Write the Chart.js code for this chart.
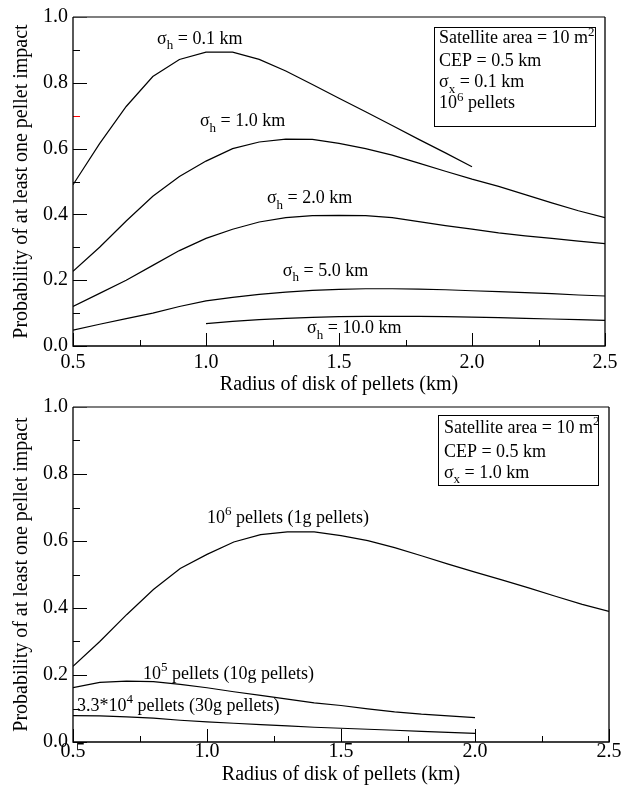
<!DOCTYPE html>
<html><head><meta charset="utf-8">
<script src="https://cdn.jsdelivr.net/npm/chart.js@4/dist/chart.umd.min.js"></script>
<style>
html,body{margin:0;padding:0;background:#fff;}
body{width:623px;height:787px;position:relative;overflow:hidden;}
#w1{position:absolute;left:0;top:0;width:623px;height:400px;}
#w2{position:absolute;left:0;top:390px;width:623px;height:397px;}
</style></head><body>
<div id="w1"><canvas id="c1"></canvas></div>
<div id="w2"><canvas id="c2"></canvas></div>
<script>
// ---- data ----
const radius = [0.5,0.6,0.7,0.8,0.9,1.0,1.1,1.2,1.3,1.4,1.5,1.6,1.7,1.8,1.9,2.0,2.1,2.2,2.3,2.4,2.5];
const radiusTo2 = [0.5,0.6,0.7,0.8,0.9,1.0,1.1,1.2,1.3,1.4,1.5,1.6,1.7,1.8,1.9,2.0];
const radiusFrom1 = [1.0,1.1,1.2,1.3,1.4,1.5,1.6,1.7,1.8,1.9,2.0,2.1,2.2,2.3,2.4,2.5];

// top panel (sigma_x = 0.1 km, 10^6 pellets)
const sigmaH01  = [0.490,0.615,0.728,0.819,0.871,0.893,0.893,0.871,0.836,0.795,0.753,0.712,0.670,0.628,0.587,0.545];
const sigmaH10  = [0.227,0.300,0.380,0.455,0.515,0.562,0.600,0.620,0.629,0.628,0.616,0.600,0.580,0.556,0.531,0.507,0.485,0.460,0.435,0.411,0.390];
const sigmaH20  = [0.120,0.160,0.200,0.245,0.290,0.327,0.355,0.377,0.390,0.396,0.397,0.396,0.390,0.378,0.366,0.355,0.344,0.335,0.327,0.319,0.311];
const sigmaH50  = [0.048,0.066,0.083,0.100,0.120,0.137,0.148,0.157,0.164,0.169,0.172,0.174,0.174,0.173,0.171,0.168,0.165,0.162,0.159,0.155,0.152];
const sigmaH100 = [0.068,0.075,0.080,0.084,0.087,0.089,0.090,0.090,0.090,0.089,0.088,0.086,0.084,0.082,0.080,0.078];

// bottom panel (sigma_x = 1.0 km)
const pellets1e6  = [0.226,0.300,0.380,0.455,0.518,0.560,0.597,0.619,0.627,0.627,0.616,0.601,0.580,0.556,0.531,0.507,0.484,0.460,0.435,0.411,0.390];
const pellets1e5  = [0.162,0.178,0.182,0.180,0.172,0.162,0.150,0.139,0.128,0.117,0.109,0.099,0.090,0.083,0.078,0.073];
const pellets33e3 = [0.079,0.078,0.075,0.071,0.065,0.060,0.056,0.052,0.048,0.044,0.041,0.038,0.035,0.032,0.029,0.026];

// tick values
const xMajorTicks = [0.5,1.0,1.5,2.0,2.5];
const xMinorTicks = [0.75,1.25,1.75,2.25];
const yMajorTicks = [0.0,0.2,0.4,0.6,0.8,1.0];
const yMinorTicks = [0.1,0.3,0.5,0.7,0.9];

const FONT = '"Liberation Serif","Times New Roman",serif';
const pts = (xs, ys) => ys.map((y, i) => ({x: xs[i], y}));
const line = (xs, ys) => ({data: pts(xs, ys), borderColor:'#000', borderWidth:1.2, pointRadius:0, tension:0, fill:false});

function drawRuns(ctx, runs, x, y, size) {
  let cx = x;
  ctx.fillStyle = '#000';
  ctx.textBaseline = 'alphabetic';
  ctx.textAlign = 'left';
  for (const r of runs) {
    const small = r.sub || r.sup;
    const s = small ? Math.round(size * 0.7) : size;
    ctx.font = s + 'px ' + FONT;
    const dy = r.sub ? size * 0.32 : (r.sup ? -size * 0.42 : 0);
    ctx.fillText(r.t, cx, y + dy);
    cx += ctx.measureText(r.t).width;
  }
}

const decor = {
  id: 'decor',
  afterDraw(chart, args, o) {
    const ctx = chart.ctx, xs = chart.scales.x, ys = chart.scales.y;
    const a = chart.chartArea;
    ctx.save();
    // ticks inside
    ctx.lineWidth = 1;
    ctx.strokeStyle = '#000';
    const X = v => Math.round(xs.getPixelForValue(v)) + 0.5;
    const Y = v => Math.round(ys.getPixelForValue(v)) + 0.5;
    xMajorTicks.forEach(v => { ctx.beginPath(); ctx.moveTo(X(v), a.bottom); ctx.lineTo(X(v), a.bottom - 13); ctx.stroke(); });
    xMinorTicks.forEach(v => { ctx.beginPath(); ctx.moveTo(X(v), a.bottom); ctx.lineTo(X(v), a.bottom - 6); ctx.stroke(); });
    yMajorTicks.forEach(v => { ctx.beginPath(); ctx.moveTo(a.left, Y(v)); ctx.lineTo(a.left + 14, Y(v)); ctx.stroke(); });
    yMinorTicks.forEach(v => {
      ctx.strokeStyle = (o.redTick === v) ? '#ff0000' : '#000';
      ctx.beginPath(); ctx.moveTo(a.left, Y(v)); ctx.lineTo(a.left + 7, Y(v)); ctx.stroke();
    });
    // frame
    ctx.lineWidth = 1.3;
    ctx.strokeStyle = '#555';
    ctx.beginPath(); ctx.moveTo(a.left, a.top); ctx.lineTo(a.right, a.top); ctx.stroke();
    ctx.strokeStyle = '#000';
    ctx.beginPath(); ctx.moveTo(a.right, a.top); ctx.lineTo(a.right, a.bottom); ctx.lineTo(a.left, a.bottom); ctx.lineTo(a.left, a.top); ctx.stroke();
    // info box
    const b = o.box;
    ctx.lineWidth = 1;
    ctx.strokeStyle = '#000';
    const bx0 = Math.round(xs.getPixelForValue(b.x0)) + 0.5, bx1 = Math.round(xs.getPixelForValue(b.x1)) + 0.5;
    const by0 = Math.round(ys.getPixelForValue(b.y0)) + 0.5, by1 = Math.round(ys.getPixelForValue(b.y1)) + 0.5;
    ctx.strokeRect(bx0, by0, bx1 - bx0, by1 - by0);
    b.lines.forEach(l => drawRuns(ctx, l.runs, xs.getPixelForValue(b.tx), ys.getPixelForValue(l.y), 18));
    // curve labels
    o.labels.forEach(l => drawRuns(ctx, l.runs, xs.getPixelForValue(l.x), ys.getPixelForValue(l.y), 18));
    ctx.restore();
  }
};

function makeChart(id, datasets, cfg) {
  return new Chart(document.getElementById(id), {
    type: 'line',
    data: {datasets},
    plugins: [decor],
    options: {
      responsive: true, maintainAspectRatio: false, animation: false,
      layout: {padding: cfg.padding},
      plugins: {legend: {display: false}, tooltip: {enabled: false}, decor: cfg.decor},
      scales: {
        x: {
          type: 'linear', min: 0.5, max: 2.5,
          afterFit: s => { s.height = cfg.xh; },
          grid: {display: false, drawTicks: false}, border: {display: false},
          ticks: {stepSize: 0.5, autoSkip: false, maxRotation: 0, padding: cfg.xtickPad, color: '#000',
                  font: {family: FONT, size: 20}, callback: v => Number(v).toFixed(1)},
          title: {display: true, text: 'Radius of disk of pellets (km)', color: '#000',
                  font: {family: FONT, size: 20}, padding: {top: 0, bottom: cfg.xtitlePad}}
        },
        y: {
          type: 'linear', min: 0, max: 1,
          afterFit: s => { s.width = 73; },
          grid: {display: false, drawTicks: false}, border: {display: false},
          ticks: {stepSize: 0.2, padding: 5, color: '#000', font: {family: FONT, size: 20},
                  callback: v => Number(v).toFixed(1)},
          title: {display: true, text: 'Probability of at least one pellet impact', color: '#000',
                  font: {family: FONT, size: 20}, padding: {top: 10, bottom: 0}}
        }
      }
    }
  });
}

makeChart('c1', [
  line(radiusTo2, sigmaH01), line(radius, sigmaH10), line(radius, sigmaH20),
  line(radius, sigmaH50), line(radiusFrom1, sigmaH100)
], {
  padding: {top: 14, right: 18, left: 0, bottom: 0}, xh: 54, xtickPad: 5, xtitlePad: 3,
  decor: {
    redTick: 0.7,
    box: {x0: 1.857, x1: 2.462, y0: 0.970, y1: 0.669, tx: 1.876, lines: [
      {y: 0.920, runs: [{t: 'Satellite area = 10 m'}, {t: '2', sup: true}]},
      {y: 0.851, runs: [{t: 'CEP = 0.5 km'}]},
      {y: 0.786, runs: [{t: 'σ'}, {t: 'x', sub: true}, {t: ' = 0.1 km'}]},
      {y: 0.723, runs: [{t: '10'}, {t: '6', sup: true}, {t: ' pellets'}]}
    ]},
    labels: [
      {x: 0.816, y: 0.919, runs: [{t: 'σ'}, {t: 'h', sub: true}, {t: ' = 0.1 km'}]},
      {x: 0.977, y: 0.669, runs: [{t: 'σ'}, {t: 'h', sub: true}, {t: ' = 1.0 km'}]},
      {x: 1.229, y: 0.434, runs: [{t: 'σ'}, {t: 'h', sub: true}, {t: ' = 2.0 km'}]},
      {x: 1.289, y: 0.214, runs: [{t: 'σ'}, {t: 'h', sub: true}, {t: ' = 5.0 km'}]},
      {x: 1.380, y: 0.039, runs: [{t: 'σ'}, {t: 'h', sub: true}, {t: ' = 10.0 km'}]}
    ]
  }
});

makeChart('c2', [
  line(radius, pellets1e6), line(radiusTo2, pellets1e5), line(radiusTo2, pellets33e3)
], {
  padding: {top: 15, right: 14, left: 0, bottom: 0}, xh: 45, xtickPad: -2, xtitlePad: 0,
  decor: {
    redTick: null,
    box: {x0: 1.862, x1: 2.459, y0: 0.976, y1: 0.766, tx: 1.884, lines: [
      {y: 0.923, runs: [{t: 'Satellite area = 10 m'}, {t: '2', sup: true}]},
      {y: 0.852, runs: [{t: 'CEP = 0.5 km'}]},
      {y: 0.789, runs: [{t: 'σ'}, {t: 'x', sub: true}, {t: ' = 1.0 km'}]}
    ]},
    labels: [
      {x: 1.000, y: 0.654, runs: [{t: '10'}, {t: '6', sup: true}, {t: ' pellets (1g pellets)'}]},
      {x: 0.761, y: 0.189, runs: [{t: '10'}, {t: '5', sup: true}, {t: ' pellets (10g pellets)'}]},
      {x: 0.515, y: 0.093, runs: [{t: '3.3*10'}, {t: '4', sup: true}, {t: ' pellets (30g pellets)'}]}
    ]
  }
});
</script>
</body></html>
